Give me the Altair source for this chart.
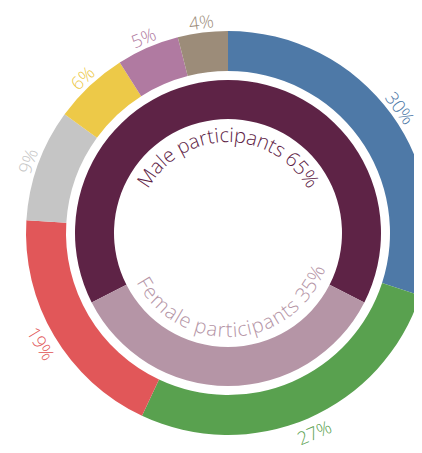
import math
import altair as alt
import pandas as pd

# ---------------- data ----------------
outer_categories = ["Group A", "Group B", "Group C", "Group D", "Group E", "Group F", "Group G"]
outer_values = [30, 27, 19, 9, 6, 5, 4]
outer_colors = ["#4e79a7", "#59a14f", "#e15759", "#c5c5c5", "#edc948", "#b07aa1", "#9c8c79"]

inner_categories = ["Male participants", "Female participants"]
inner_values = [65, 35]
inner_colors = ["#5e2346", "#b595a6"]

# ---------------- layout / style ----------------
CX, CY = 220, 225
R_OUT, R_OUT_IN = 202, 162
R_IN, R_IN_IN = 153, 114
LABEL_R_TOP, LABEL_R_BOTTOM = 211, 219
MALE_BASE_R, FEMALE_BASE_R = 91, 104
FEMALE_SHIFT_DEG = -4
FONT = "Open Sans"
FS_OUT = 18
FS_IN = 20
WEIGHT = 300

# approximate advance widths (em) used to lay characters along the arcs
CHAR_W = {" ": 0.26, "%": 0.834, "F": 0.541, "M": 0.907, "a": 0.556, "c": 0.479,
          "e": 0.561, "i": 0.252, "l": 0.252, "m": 0.932, "n": 0.613, "p": 0.613,
          "r": 0.408, "s": 0.475, "t": 0.353}
for d in "0123456789":
    CHAR_W[d] = 0.572

TAU = 2 * math.pi

# ---------------- outer ring table ----------------
rows = []
cum = 0
for i, (c, v) in enumerate(zip(outer_categories, outer_values)):
    mid = cum + v / 2
    cum += v
    deg = mid * 3.6
    top = deg <= 90 or deg >= 270
    rot = (deg if top else deg - 180) % 360
    rows.append(dict(cat=c, value=v, order=i, mid=mid, label=f"{v}%",
                     half="top" if top else "bottom", rot=rot))
df_outer = pd.DataFrame(rows)

outer_theta = alt.Scale(domain=[0, 100], range=[0, TAU])
outer_color = alt.Scale(domain=outer_categories, range=outer_colors)

base_o = alt.Chart(df_outer).encode(
    x=alt.value(CX), y=alt.value(CY),
    color=alt.Color("cat:N", scale=outer_color, legend=None),
)
arcs_o = base_o.mark_arc(outerRadius=R_OUT, innerRadius=R_OUT_IN).encode(
    theta=alt.Theta("value:Q", stack=True, scale=outer_theta),
    order=alt.Order("order:Q"),
)
lab_top = base_o.mark_text(radius=LABEL_R_TOP, fontSize=FS_OUT, font=FONT, fontWeight=WEIGHT,
                           align="center", baseline="middle").encode(
    theta=alt.Theta("mid:Q", stack=False, scale=outer_theta),
    angle=alt.Angle("rot:Q", scale=None),
    text="label:N",
).transform_filter("datum.half == 'top'")
lab_bot = base_o.mark_text(radius=LABEL_R_BOTTOM, fontSize=FS_OUT, font=FONT, fontWeight=WEIGHT,
                           align="center", baseline="middle").encode(
    theta=alt.Theta("mid:Q", stack=False, scale=outer_theta),
    angle=alt.Angle("rot:Q", scale=None),
    text="label:N",
).transform_filter("datum.half == 'bottom'")
outer = alt.layer(arcs_o, lab_top, lab_bot)

# ---------------- inner ring ----------------
start_deg = -inner_values[0] / 2 * 3.6  # first group centred at the top
inner_theta = alt.Scale(domain=[0, 100],
                        range=[math.radians(start_deg), math.radians(start_deg) + TAU])
inner_color = alt.Scale(domain=inner_categories, range=inner_colors)

df_inner = pd.DataFrame({"cat": inner_categories, "value": inner_values,
                         "order": list(range(len(inner_values)))})


def char_rows(text, cat, mid_pct, r_spacing, direction):
    widths = [CHAR_W.get(ch, 0.55) * FS_IN for ch in text]
    total = sum(widths)
    pos = 0.0
    out = []
    for k, (ch, w) in enumerate(zip(text, widths)):
        off = pos + w / 2 - total / 2
        pos += w
        if ch == " ":
            continue
        t = mid_pct + direction * (off / r_spacing) / TAU * 100
        deg = start_deg + t * 3.6
        rot = (deg if direction == 1 else deg - 180) % 360
        out.append(dict(ch=ch, cat=cat, t=t, rot=rot, k=k))
    return out


male_mid = inner_values[0] / 2
female_mid = inner_values[0] + inner_values[1] / 2 + FEMALE_SHIFT_DEG / 3.6
df_male = pd.DataFrame(char_rows(f"{inner_categories[0]} {inner_values[0]}%",
                                 inner_categories[0], male_mid, MALE_BASE_R + 5, 1))
df_female = pd.DataFrame(char_rows(f"{inner_categories[1]} {inner_values[1]}%",
                                   inner_categories[1], female_mid, FEMALE_BASE_R - 5, -1))

arcs_i = alt.Chart(df_inner).mark_arc(outerRadius=R_IN, innerRadius=R_IN_IN).encode(
    theta=alt.Theta("value:Q", stack=True, scale=inner_theta),
    order=alt.Order("order:Q"),
    color=alt.Color("cat:N", scale=inner_color, legend=None),
    x=alt.value(CX), y=alt.value(CY),
)


def char_layer(df, r):
    return alt.Chart(df).mark_text(radius=r, fontSize=FS_IN, font=FONT, fontWeight=WEIGHT,
                                   align="center", baseline="alphabetic").encode(
        theta=alt.Theta("t:Q", stack=False, scale=inner_theta),
        angle=alt.Angle("rot:Q", scale=None),
        text="ch:N",
        color=alt.Color("cat:N", scale=inner_color, legend=None),
        x=alt.value(CX), y=alt.value(CY),
    )


inner = alt.layer(arcs_i, char_layer(df_male, MALE_BASE_R), char_layer(df_female, FEMALE_BASE_R))

chart = alt.layer(outer, inner).resolve_scale(
    theta="independent", color="independent"
).properties(
    width=406, height=437, padding=0, autosize="none", background="white"
).configure_view(stroke=None)

chart.save("out.html", embed_options={"renderer": "svg", "actions": False})
